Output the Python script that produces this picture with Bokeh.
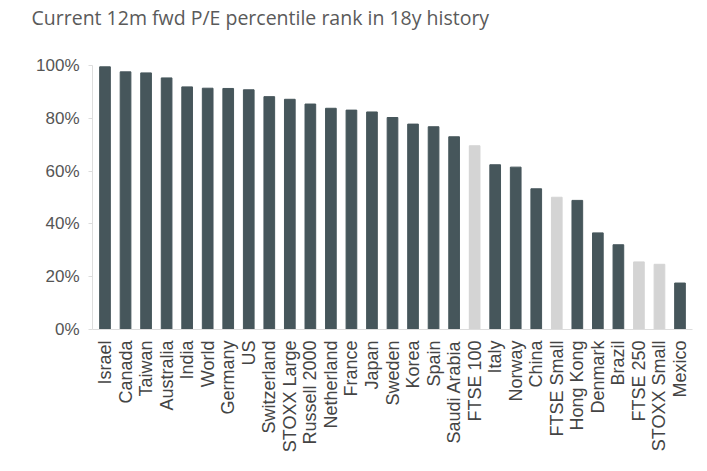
import math
from bokeh.plotting import figure
from bokeh.models import FactorRange, Range1d, NumeralTickFormatter, ColumnDataSource, Title
from bokeh.embed import file_html
from bokeh.resources import INLINE

categories = ["Israel", "Canada", "Taiwan", "Australia", "India", "World", "Germany", "US",
              "Switzerland", "STOXX Large", "Russell 2000", "Netherland", "France", "Japan",
              "Sweden", "Korea", "Spain", "Saudi Arabia", "FTSE 100", "Italy", "Norway",
              "China", "FTSE Small", "Hong Kong", "Denmark", "Brazil", "FTSE 250",
              "STOXX Small", "Mexico"]
values = [0.995, 0.976, 0.972, 0.953, 0.919, 0.914, 0.913, 0.908,
          0.882, 0.872, 0.854, 0.838, 0.831, 0.824,
          0.803, 0.778, 0.768, 0.730, 0.696, 0.624, 0.615,
          0.533, 0.501, 0.489, 0.366, 0.321, 0.256,
          0.247, 0.176]
uk_markets = ["FTSE 100", "FTSE Small", "FTSE 250", "STOXX Small"]
title_text = "Current 12m fwd P/E percentile rank in 18y history"

DARK = "#46565b"
LIGHT = "#d4d4d4"
colors = [LIGHT if c in uk_markets else DARK for c in categories]

src = ColumnDataSource(dict(cat=categories, val=values, color=colors))

W, H = 702, 462
p = figure(width=W, height=H, output_backend="svg", toolbar_location=None,
           x_range=FactorRange(*categories, range_padding=0.0075),
           y_range=Range1d(0, 1.0),
           min_border_left=92, min_border_right=10, min_border_top=65, min_border_bottom=133)
p.vbar(x="cat", top="val", width=0.52, color="color", source=src)

# spacer nearest the frame, then the real title above it
p.add_layout(Title(text=" ", text_font="Open Sans", text_font_size="19.5px",
                   standoff=6, text_color="white"), "above")
p.add_layout(Title(text=title_text, align="left", offset=-61, standoff=0,
                   vertical_align="bottom", text_font="Open Sans", text_font_size="19.5px",
                   text_font_style="normal", text_color="#5a5a5a"), "above")

p.outline_line_color = None
p.xgrid.grid_line_color = None
p.ygrid.grid_line_color = None
p.background_fill_color = "white"
p.border_fill_color = "white"

p.yaxis.ticker = [0, 0.2, 0.4, 0.6, 0.8, 1.0]
p.yaxis.formatter = NumeralTickFormatter(format="0%")
p.yaxis.axis_line_color = "#dddddd"
p.yaxis.major_tick_line_color = "#dddddd"
p.yaxis.major_tick_out = 4
p.yaxis.major_tick_in = 0
p.yaxis.minor_tick_line_color = None
p.yaxis.major_label_standoff = 9
p.yaxis.major_label_text_font = "Liberation Sans"
p.yaxis.major_label_text_font_size = "17px"
p.yaxis.major_label_text_color = "#555555"

p.xaxis.axis_line_color = "#dddddd"
p.xaxis.major_tick_line_color = None
p.xaxis.major_tick_out = 0
p.xaxis.major_label_standoff = 11
p.xaxis.major_label_orientation = math.pi / 2
p.xaxis.major_label_text_font = "Liberation Sans"
p.xaxis.major_label_text_font_size = "18px"
p.xaxis.major_label_text_color = "#444444"

open("out.html", "w").write(file_html(p, INLINE))
